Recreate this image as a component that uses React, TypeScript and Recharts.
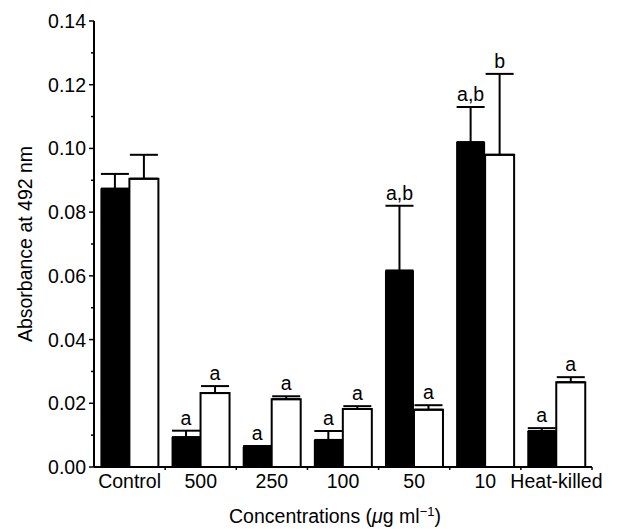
import { Bar, BarChart, ErrorBar, LabelList, XAxis, YAxis } from "recharts";

// doses + the two series (black = filled bars, white = open bars)
const categories = ["Control", "500", "250", "100", "50", "10", "Heat-killed"];
const blackMeans = [0.0874, 0.0094, 0.0063, 0.0085, 0.0617, 0.102, 0.0113];
const blackErrs = [0.0046, 0.002, 0.0003, 0.0028, 0.0203, 0.011, 0.0009];
const blackMarks = ["", "a", "a", "a", "a,b", "a,b", "a"];
const whiteMeans = [0.0905, 0.0232, 0.0213, 0.0182, 0.018, 0.098, 0.0266];
const whiteErrs = [0.0075, 0.0022, 0.0009, 0.0009, 0.0014, 0.0254, 0.0016];
const whiteMarks = ["", "a", "a", "a", "a", "b", "a"];
const yTicks = [0, 0.01, 0.02, 0.03, 0.04, 0.05, 0.06, 0.07, 0.08, 0.09, 0.1, 0.11, 0.12, 0.13, 0.14];

const W = 619;
const H = 529;
const PLOT_LEFT = 94;
const PLOT_RIGHT = 592;
const PLOT_TOP = 21;
const PLOT_BOTTOM = 467;
const BAND = (PLOT_RIGHT - PLOT_LEFT) / categories.length;
const FONT = "'Liberation Sans', Arial, sans-serif";
const FS = 19.5;

const data = categories.map((name, i) => ({
  name,
  black: blackMeans[i],
  blackErr: [0, blackErrs[i]],
  white: whiteMeans[i],
  whiteErr: [0, whiteErrs[i]],
}));

function YTick(props: any) {
  const { payload } = props;
  const y = payload.coordinate;
  const v = Math.round(payload.value * 100);
  const major = v % 2 === 0;
  return (
    <g>
      <line x1={PLOT_LEFT - (major ? 5 : 3)} x2={PLOT_LEFT} y1={y} y2={y} stroke="#000" strokeWidth={1.5} />
      {major && (
        <text x={PLOT_LEFT - 8} y={y} dy="0.36em" textAnchor="end" fontSize={FS} fontFamily={FONT} fill="#000">
          {payload.value.toFixed(2)}
        </text>
      )}
    </g>
  );
}

function XTick(props: any) {
  const { payload } = props;
  const x = payload.coordinate;
  const edge = x + BAND / 2;
  return (
    <g>
      <line x1={edge} x2={edge} y1={PLOT_BOTTOM} y2={PLOT_BOTTOM + 3} stroke="#000" strokeWidth={1.5} />
      <text x={x} y={PLOT_BOTTOM + 21} textAnchor="middle" fontSize={FS} fontFamily={FONT} fill="#000">
        {payload.value}
      </text>
    </g>
  );
}

function markLabel(marks: string[], errs: number[]) {
  return (props: any) => {
    const { x, y, width, height, index, value } = props;
    const text = marks[index];
    if (!text) return null;
    const perUnit = height / value;
    const top = y - errs[index] * perUnit;
    return (
      <text x={x + width / 2} y={top - 6} textAnchor="middle" fontSize={FS} fontFamily={FONT} fill="#000">
        {text}
      </text>
    );
  };
}

export default function App() {
  return (
    <div style={{ position: "absolute", left: 0, top: 0, width: W, height: H, background: "#fff" }}>
      <BarChart
        width={W}
        height={H}
        data={data}
        margin={{ top: PLOT_TOP, right: W - PLOT_RIGHT, left: 0, bottom: 0 }}
        barCategoryGap="9%"
        barGap={0}
      >
        <XAxis
          dataKey="name"
          height={H - PLOT_BOTTOM}
          axisLine={{ stroke: "#000", strokeWidth: 2 }}
          tickLine={false}
          tick={<XTick />}
          interval={0}
        />
        <YAxis
          width={PLOT_LEFT}
          domain={[0, 0.14]}
          ticks={yTicks}
          interval={0}
          axisLine={{ stroke: "#000", strokeWidth: 2 }}
          tickLine={false}
          tick={<YTick />}
        />
        <Bar dataKey="black" fill="#000" isAnimationActive={false}>
          <ErrorBar dataKey="blackErr" width={14} stroke="#000" strokeWidth={2} direction="y" isAnimationActive={false} />
          <LabelList dataKey="black" content={markLabel(blackMarks, blackErrs)} />
        </Bar>
        <Bar dataKey="white" fill="#fff" stroke="#000" strokeWidth={2} isAnimationActive={false}>
          <ErrorBar dataKey="whiteErr" width={14} stroke="#000" strokeWidth={2} direction="y" isAnimationActive={false} />
          <LabelList dataKey="white" content={markLabel(whiteMarks, whiteErrs)} />
        </Bar>
        <text
          transform={`translate(32, ${(PLOT_TOP + PLOT_BOTTOM) / 2}) rotate(-90)`}
          textAnchor="middle"
          fontSize={FS}
          fontFamily={FONT}
          fill="#000"
        >
          Absorbance at 492 nm
        </text>
        <text x={335} y={523} textAnchor="middle" fontSize={FS} fontFamily={FONT} fill="#000">
          Concentrations (<tspan fontStyle="italic">μ</tspan>g ml
          <tspan dy={-7} fontSize={13}>−1</tspan>
          <tspan dy={7}>)</tspan>
        </text>
      </BarChart>
    </div>
  );
}
